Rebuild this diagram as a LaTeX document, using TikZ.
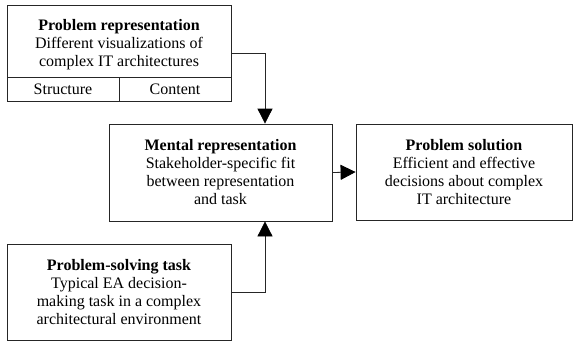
\documentclass[tikz,border=0pt]{standalone}
\usepackage{fontspec}
\setmainfont{Liberation Serif}
\usetikzlibrary{arrows.meta}
\begin{document}
\begin{tikzpicture}[x=1pt,y=-1pt,
  boxfont/.style={font=\fontsize{16}{18}\selectfont},
  box/.style={draw=black!85,line width=0.8pt,rectangle,inner sep=0pt,align=center,boxfont},
  conn/.style={draw=black!85,line width=0.8pt,-{Triangle[length=15pt,width=15pt,color=black]}}]
\useasboundingbox (0,0) rectangle (574,341);
\node[box,minimum width=224pt,minimum height=72pt,
  label={[boxfont,align=center,inner sep=0pt,yshift=-4pt]center:{\textbf{Problem representation}\\Different visualizations of\\complex IT architectures}}] (rep) at (119,41) {};
\node[box,minimum width=112pt,minimum height=24pt] (struct) at (63,89) {Structure};
\node[box,minimum width=112pt,minimum height=24pt] (content) at (175,89) {Content};
\node[box,minimum width=223pt,minimum height=97pt] (mental) at (220.5,172.5)
  {\textbf{Mental representation}\\Stakeholder-specific fit\\between representation\\and task};
\node[box,minimum width=216pt,minimum height=96pt] (sol) at (464,172)
  {\textbf{Problem solution}\\Efficient and effective\\decisions about complex\\IT architecture};
\node[box,minimum width=224pt,minimum height=96pt] (task) at (119,292)
  {\textbf{Problem-solving task}\\Typical EA decision-\\making task in a complex\\architectural environment};
\coordinate (c1) at (265,53);
\coordinate (c2) at (265,292);
\draw[conn] (rep.east |- c1) -| (mental.north -| c1);
\draw[conn] (task.east) -| (mental.south -| c2);
\draw[conn] (mental.east) -- (sol.west);
\end{tikzpicture}
\end{document}
